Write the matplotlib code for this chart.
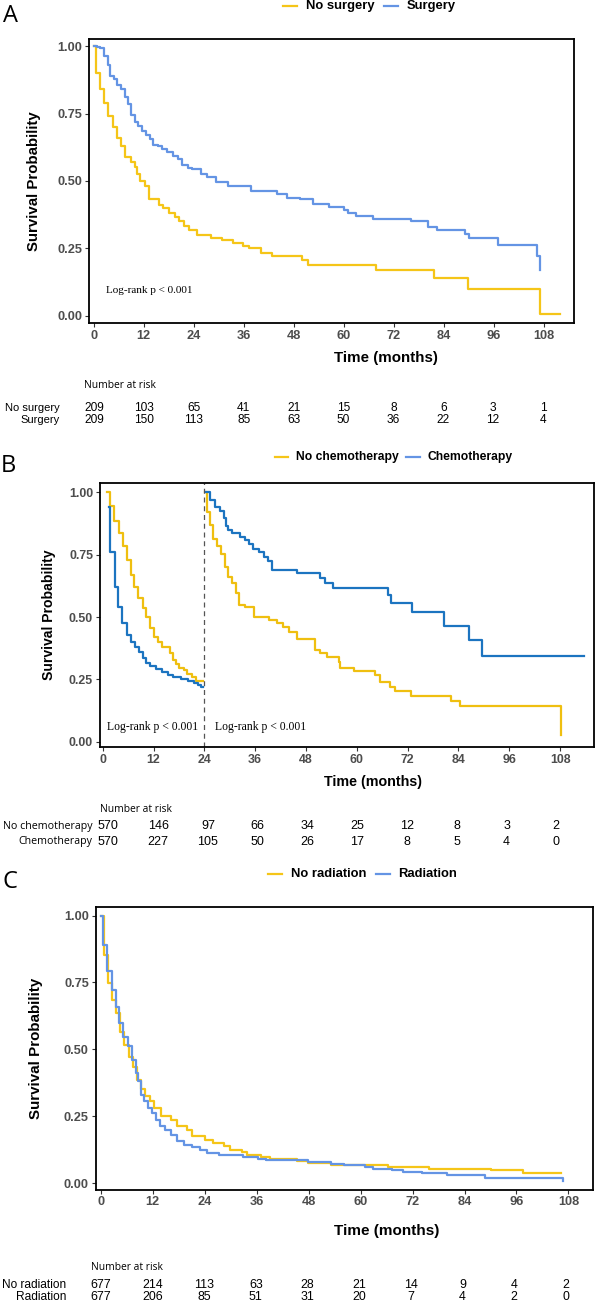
import matplotlib
matplotlib.use("Agg")
import matplotlib.pyplot as plt
from matplotlib.lines import Line2D

# ---------------- data ----------------
time_ticks = [0, 12, 24, 36, 48, 60, 72, 84, 96, 108]
surv_ticks = [0.0, 0.25, 0.5, 0.75, 1.0]
surv_ticklabels = ["0.00", "0.25", "0.50", "0.75", "1.00"]
risk_times = [0, 12, 24, 36, 48, 60, 72, 84, 96, 108]

# Panel A : surgery
A_groups = ["No surgery", "Surgery"]
A_nosurg_t = [0, 0.6, 1.6, 2.5, 3.4, 4.6, 5.7, 6.6, 7.5, 8.9, 9.8, 10.4, 11.1, 12.3, 13.2,
              15.7, 16.6, 18.0, 19.4, 20.5, 21.7, 22.8, 24.7, 28.1, 30.8, 33.5, 35.8, 37.2,
              40.1, 42.7, 50.0, 51.4, 67.8, 81.5, 89.7, 106.9]
A_nosurg_s = [1.0, 0.90, 0.84, 0.79, 0.74, 0.70, 0.66, 0.63, 0.59, 0.57, 0.55, 0.525, 0.50,
              0.48, 0.435, 0.41, 0.40, 0.38, 0.365, 0.35, 0.335, 0.32, 0.30, 0.29, 0.28, 0.27,
              0.26, 0.25, 0.235, 0.222, 0.207, 0.19, 0.172, 0.14, 0.10, 0.008]
A_nosurg_end = 111.7
A_surg_t = [0, 0.8, 1.5, 2.5, 3.4, 3.8, 4.8, 5.7, 6.6, 7.5, 8.2, 8.9, 9.8, 10.7, 11.6, 12.5,
            13.4, 14.3, 15.3, 16.4, 17.5, 18.9, 20.3, 21.2, 22.6, 23.5, 25.8, 27.1, 29.4, 32.2,
            37.6, 44.0, 46.3, 49.5, 52.7, 56.4, 60.0, 60.9, 62.8, 66.9, 76.0, 80.1, 82.4, 89.0,
            89.9, 97.0, 106.2, 106.9]
A_surg_s = [1.0, 0.997, 0.994, 0.963, 0.93, 0.89, 0.878, 0.855, 0.84, 0.81, 0.785, 0.744, 0.72,
            0.703, 0.686, 0.669, 0.654, 0.635, 0.629, 0.617, 0.606, 0.594, 0.583, 0.56, 0.548,
            0.543, 0.525, 0.514, 0.496, 0.481, 0.462, 0.45, 0.438, 0.433, 0.415, 0.403, 0.392,
            0.38, 0.369, 0.36, 0.351, 0.33, 0.319, 0.305, 0.287, 0.264, 0.222, 0.17]
A_surg_end = 107.0
A_risk_nosurg = [209, 103, 65, 41, 21, 15, 8, 6, 3, 1]
A_risk_surg = [209, 150, 113, 85, 63, 50, 36, 22, 12, 4]

# Panel B : chemotherapy (landmark at 24 months)
B_groups = ["No chemotherapy", "Chemotherapy"]
B_nochemo1_t = [0.9, 1.8, 2.7, 3.8, 4.7, 5.7, 6.6, 7.5, 8.3, 9.4, 10.3, 11.2, 12.1, 13.0, 14.1,
                15.9, 16.6, 17.3, 18.1, 19.3, 20.0, 21.1, 22.0]
B_nochemo1_s = [1.0, 0.945, 0.885, 0.836, 0.785, 0.73, 0.668, 0.62, 0.575, 0.535, 0.50, 0.455,
                0.42, 0.40, 0.38, 0.354, 0.328, 0.31, 0.294, 0.287, 0.27, 0.26, 0.245]
B_nochemo1_end = 23.6
B_chemo1_t = [1.5, 1.8, 2.8, 3.7, 4.6, 5.7, 6.7, 7.6, 8.5, 9.4, 10.3, 11.2, 12.6, 13.9, 15.3,
              16.6, 18.4, 20.2, 21.5, 22.6, 23.2]
B_chemo1_s = [0.94, 0.76, 0.62, 0.54, 0.475, 0.43, 0.40, 0.38, 0.36, 0.335, 0.317, 0.303, 0.29,
              0.28, 0.267, 0.26, 0.253, 0.245, 0.237, 0.227, 0.22]
B_chemo1_end = 23.6
B_nochemo2_t = [24.2, 24.7, 25.4, 26.0, 27.1, 28.0, 28.9, 29.6, 30.5, 31.4, 32.1, 33.7, 35.7,
                39.3, 41.1, 42.6, 44.0, 45.8, 50.1, 51.2, 53.0, 55.7, 56.1, 59.4, 64.2, 65.5,
                67.8, 69.1, 72.7, 82.3, 84.4, 108.2]
B_nochemo2_s = [1.0, 0.922, 0.87, 0.815, 0.785, 0.753, 0.70, 0.66, 0.635, 0.595, 0.548, 0.54,
                0.50, 0.49, 0.475, 0.46, 0.44, 0.414, 0.368, 0.354, 0.34, 0.32, 0.294, 0.285,
                0.267, 0.24, 0.22, 0.205, 0.183, 0.164, 0.144, 0.027]
B_nochemo2_end = 108.3
B_chemo2_t = [24.5, 25.3, 26.5, 27.8, 28.7, 29.2, 29.6, 30.5, 32.3, 33.7, 34.6, 35.5, 36.8,
              38.2, 39.0, 39.9, 45.8, 51.2, 52.5, 54.3, 67.3, 68.0, 73.1, 80.6, 86.6, 89.6]
B_chemo2_s = [1.0, 0.97, 0.942, 0.926, 0.896, 0.865, 0.85, 0.836, 0.822, 0.81, 0.793, 0.775,
              0.762, 0.742, 0.726, 0.69, 0.675, 0.655, 0.635, 0.615, 0.59, 0.557, 0.519, 0.464,
              0.41, 0.344]
B_chemo2_end = 113.6
B_risk_nochemo = [570, 146, 97, 66, 34, 25, 12, 8, 3, 2]
B_risk_chemo = [570, 227, 105, 50, 26, 17, 8, 5, 4, 0]

# Panel C : radiation
C_groups = ["No radiation", "Radiation"]
C_norad_t = [0, 0.74, 1.7, 2.7, 3.6, 4.4, 5.4, 6.6, 7.5, 8.3, 9.4, 10.3, 11.4, 12.3, 14.0, 16.2,
             17.6, 19.8, 21.1, 24.1, 25.9, 28.5, 29.9, 32.5, 33.8, 36.9, 39.1, 45.2, 47.8, 53.1,
             56.6, 66.3, 75.9, 90.0, 97.5]
C_norad_s = [1.0, 0.853, 0.747, 0.684, 0.634, 0.566, 0.516, 0.472, 0.435, 0.385, 0.35, 0.325,
             0.306, 0.281, 0.25, 0.2375, 0.215, 0.20, 0.175, 0.1625, 0.15, 0.1375, 0.125, 0.115,
             0.106, 0.096, 0.09, 0.081, 0.075, 0.069, 0.066, 0.06, 0.054, 0.0475, 0.0375]
C_norad_end = 106.2
C_rad_t = [0, 0.43, 1.5, 2.5, 3.4, 4.3, 5.2, 6.4, 7.3, 8.1, 8.6, 9.2, 9.9, 10.8, 11.9, 12.7,
           13.6, 14.9, 16.2, 17.6, 19.3, 21.1, 22.8, 24.6, 27.2, 32.9, 36.4, 38.2, 47.8, 53.1,
           56.2, 61.0, 62.8, 67.2, 69.8, 74.2, 79.9, 88.7, 106.7]
C_rad_s = [1.0, 0.89, 0.793, 0.72, 0.66, 0.597, 0.547, 0.512, 0.46, 0.412, 0.38, 0.331, 0.306,
           0.281, 0.2625, 0.2375, 0.2125, 0.20, 0.181, 0.156, 0.144, 0.134, 0.1225, 0.1125,
           0.104, 0.0975, 0.091, 0.085, 0.079, 0.0725, 0.066, 0.059, 0.0525, 0.0475, 0.0425,
           0.0375, 0.03, 0.019, 0.006]
C_rad_end = 106.8
C_risk_norad = [677, 214, 113, 63, 28, 21, 14, 9, 4, 2]
C_risk_rad = [677, 206, 85, 51, 31, 20, 7, 4, 2, 0]

pval_text = "Log-rank p < 0.001"

# ---------------- styling ----------------
YEL = "#F5C518"
BLU = "#6494E4"
BYEL = "#EFBF10"
BBLU = "#1C74C0"
SANS = "Liberation Sans"
HUM = "Open Sans"
SERIF = "Liberation Serif"
TICKC = "#4D4D4D"

W, H = 596, 1304
fig = plt.figure(figsize=(W / 100, H / 100), dpi=100)
fig.patch.set_facecolor("white")


def rect(l, t, r, b):
    return [l / W, 1 - b / H, (r - l) / W, (b - t) / H]


def fx(px):
    return px / W


def fy(py):
    return 1 - py / H


def stepline(ax, t, s, end, color):
    x = list(t) + [end]
    y = list(s) + [s[-1]]
    ax.step(x, y, where="post", color=color, lw=1.6)


def style_axes(ax, xlim, ylim, fs):
    ax.set_xlim(*xlim)
    ax.set_ylim(*ylim)
    ax.set_xticks(time_ticks)
    ax.set_xticklabels([str(v) for v in time_ticks])
    ax.set_yticks(surv_ticks)
    ax.set_yticklabels(surv_ticklabels)
    for lab in ax.get_xticklabels() + ax.get_yticklabels():
        lab.set_fontfamily(SANS)
        lab.set_fontweight("bold")
        lab.set_color(TICKC)
        lab.set_fontsize(fs)
    ax.tick_params(length=3, width=0.8, color="#333333", pad=2)
    for sp in ax.spines.values():
        sp.set_linewidth(1.3)
        sp.set_color("black")


def legend(y, items, fs):
    for x0, x1, xt, label, color in items:
        fig.add_artist(Line2D([fx(x0), fx(x1)], [fy(y), fy(y)], transform=fig.transFigure,
                              color=color, lw=1.6))
        fig.text(fx(xt), fy(y), label, ha="left", va="center", fontsize=fs,
                 fontweight="bold", family=SANS)


def risk_table(x0, x108, y1, y2, labels, values, lab_right, lab_family, lab_fs, num_fs,
               head_x, head_y):
    ax = fig.add_axes(rect(x0, y1, x108, y2))
    ax.set_xlim(0, 108)
    ax.set_ylim(1, 0)
    ax.axis("off")
    ppm = (x108 - x0) / 108.0
    for i, (lab, vals) in enumerate(zip(labels, values)):
        for t, v in zip(risk_times, vals):
            ax.text(t, i, str(v), ha="center", va="center", fontsize=num_fs, family=SANS)
        ax.text((lab_right - x0) / ppm, i, lab, ha="right", va="center", fontsize=lab_fs,
                family=lab_family)
    ax.text((head_x - x0) / ppm, (head_y - y1) / (y2 - y1), "Number at risk", ha="left",
            va="center", fontsize=7.4, family=HUM)


# ================= Panel A =================
fig.text(fx(3), fy(22), "A", fontsize=17, family=HUM, va="baseline", ha="left")
legend(6, [(283, 297, 306, A_groups[0], YEL), (384, 398, 407, A_groups[1], BLU)], 9.4)
axA = fig.add_axes(rect(89, 39, 573.7, 322.7))
stepline(axA, A_nosurg_t, A_nosurg_s, A_nosurg_end, YEL)
stepline(axA, A_surg_t, A_surg_s, A_surg_end, BLU)
style_axes(axA, (-1.13, 115.1), (-0.025, 1.026), 9.2)
axA.text(2.9, 0.094, pval_text, family=SERIF, fontsize=8, ha="left", va="center")
fig.text(fx(34), fy(181), "Survival Probability", rotation=90, ha="center", va="center",
         fontsize=10.8, fontweight="bold", family=SANS)
fig.text(fx(386), fy(358.3), "Time (months)", ha="center", va="center", fontsize=10.9,
         fontweight="bold", family=SANS)
risk_table(94.3, 543, 407.7, 420, A_groups, [A_risk_nosurg, A_risk_surg], 60, SANS, 8.0, 8.6,
           83.6, 385)

# ================= Panel B =================
fig.text(fx(1), fy(471.7), "B", fontsize=17, family=HUM, va="baseline", ha="left")
legend(457.3, [(274.5, 288, 295.8, B_groups[0], YEL), (406, 420, 427.8, B_groups[1], BLU)], 8.7)
axB = fig.add_axes(rect(100, 482.5, 594, 746.7))
stepline(axB, B_nochemo1_t, B_nochemo1_s, B_nochemo1_end, BYEL)
stepline(axB, B_chemo1_t, B_chemo1_s, B_chemo1_end, BBLU)
stepline(axB, B_nochemo2_t, B_nochemo2_s, B_nochemo2_end, BYEL)
stepline(axB, B_chemo2_t, B_chemo2_s, B_chemo2_end, BBLU)
axB.axvline(24, color="#555555", lw=0.9, ls=(0, (4, 3)))
style_axes(axB, (-0.64, 116.0), (-0.02, 1.04), 8.9)
axB.text(1.0, 0.06, pval_text, family=SERIF, fontsize=8.4, ha="left", va="center")
axB.text(26.5, 0.06, pval_text, family=SERIF, fontsize=8.4, ha="left", va="center")
fig.text(fx(49.4), fy(614.6), "Survival Probability", rotation=90, ha="center", va="center",
         fontsize=10.1, fontweight="bold", family=SANS)
fig.text(fx(372.6), fy(781.7), "Time (months)", ha="center", va="center", fontsize=10.3,
         fontweight="bold", family=SANS)
risk_table(108.4, 556.3, 826, 841.7, B_groups, [B_risk_nochemo, B_risk_chemo], 92.8, HUM, 7.7,
           9.0, 100, 809.3)

# ================= Panel C =================
fig.text(fx(2), fy(888), "C", fontsize=17, family=HUM, va="baseline", ha="left")
legend(874.3, [(268, 282, 290.9, C_groups[0], YEL), (375.7, 389.7, 398.5, C_groups[1], BLU)], 9.4)
axC = fig.add_axes(rect(95.8, 907.3, 592.7, 1189.5))
stepline(axC, C_norad_t, C_norad_s, C_norad_end, YEL)
stepline(axC, C_rad_t, C_rad_s, C_rad_end, BLU)
style_axes(axC, (-1.15, 113.6), (-0.024, 1.031), 9.2)
fig.text(fx(36), fy(1048.4), "Survival Probability", rotation=90, ha="center", va="center",
         fontsize=10.9, fontweight="bold", family=SANS)
fig.text(fx(386.7), fy(1230.7), "Time (months)", ha="center", va="center", fontsize=11,
         fontweight="bold", family=SANS)
risk_table(100.8, 565.8, 1285, 1296.7, C_groups, [C_risk_norad, C_risk_rad], 66.5, SANS, 8.6,
           8.9, 91.3, 1267.7)

fig.savefig("out.png", dpi=100, facecolor="white")
